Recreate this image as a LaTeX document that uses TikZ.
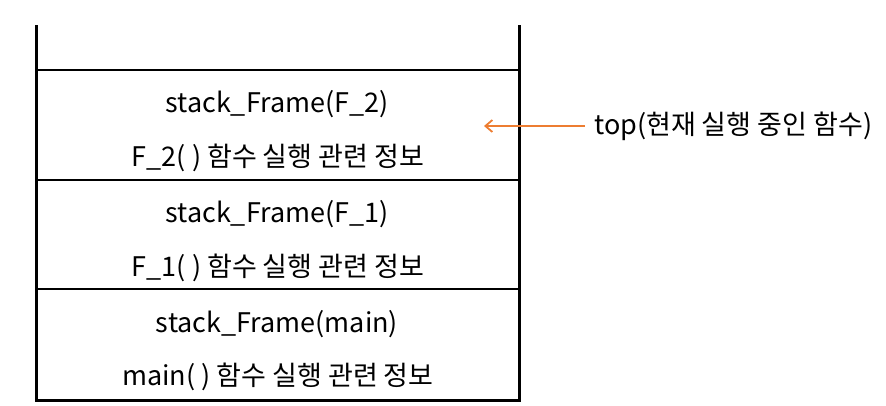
\documentclass[tikz,border=0pt]{standalone}
\usepackage{fontspec}
\setmainfont{Noto Sans CJK KR}
\usetikzlibrary{arrows.meta}
\definecolor{arrowor}{HTML}{ED7D31}
\begin{document}
\begin{tikzpicture}[x=1pt,y=-1pt,
  lbl/.style={font=\fontsize{27}{30}\selectfont, inner sep=0pt, anchor=center},
  wall/.style={line width=3pt},
  sep/.style={line width=1.5pt},
  ptr/.style={arrowor, line width=1.8pt, -{Straight Barb[length=7pt,width=12pt]}}]
\useasboundingbox (0,0) rectangle (886,405);
\draw[wall] (36,25) -- (36,400) -- (519,400) -- (519,25);
\draw[sep] (36,70) -- (519,70);
\draw[sep] (36,180) -- (519,180);
\draw[sep] (36,289) -- (519,289);
\node[lbl] (f2a) at (277,104) {stack\_Frame(F\_2)};
\node[lbl] (f2b) at (278,158) {F\_2( ) 함수 실행 관련 정보};
\node[lbl] (f1a) at (277,214) {stack\_Frame(F\_1)};
\node[lbl] (f1b) at (278,268) {F\_1( ) 함수 실행 관련 정보};
\node[lbl] (ma) at (277,324) {stack\_Frame(main)};
\node[lbl] (mb) at (278,377) {main( ) 함수 실행 관련 정보};
\node[lbl, anchor=west] (top) at (594,126) {top(현재 실행 중인 함수)};
\coordinate (tip) at (484,126);
\draw[ptr] ([xshift=-9pt]top.west) -- (tip);
\end{tikzpicture}
\end{document}
